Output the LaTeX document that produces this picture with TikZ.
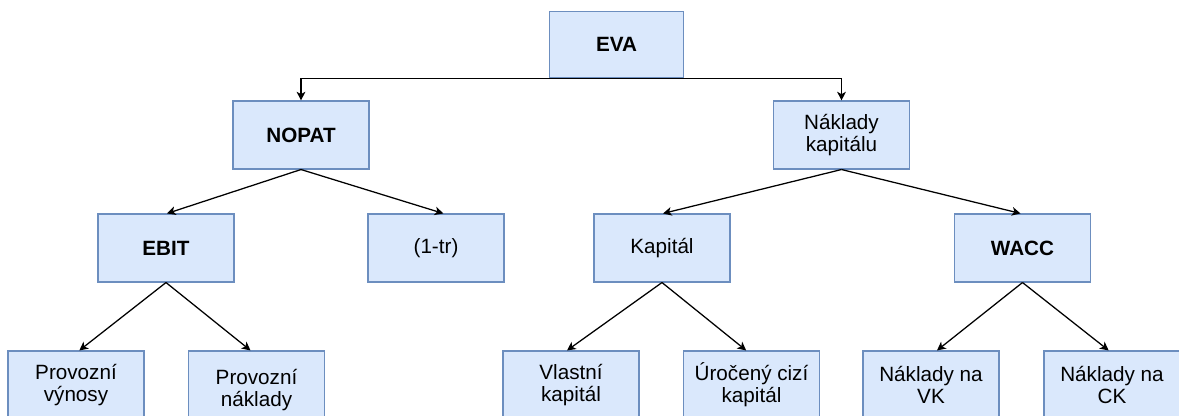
\documentclass[tikz,border=0pt]{standalone}
\usepackage{fontspec}
\setmainfont{Liberation Sans}
\usetikzlibrary{arrows.meta}
\definecolor{boxfill}{HTML}{DAE8FC}
\definecolor{boxline}{HTML}{6C8EBF}
\begin{document}
\begin{tikzpicture}[
  x=0.75pt, y=-0.75pt,
  box/.style={rectangle, draw=boxline, fill=boxfill, line width=0.8pt,
    minimum width=102pt, minimum height=51pt, inner sep=0pt, align=center,
    font=\fontsize{15.5}{16.5}\selectfont},
  bbox/.style={box, font=\fontsize{15.5}{16.5}\selectfont\bfseries},
  link/.style={draw=black, line width=0.95pt,
    -{Stealth[length=6.5pt, width=6.5pt, inset=1.8pt]}}
]
\useasboundingbox (0,0) rectangle (1179,416);

% top level
\node[bbox, minimum width=101pt, minimum height=50pt] (eva) at (616.5,44.5) {EVA};

% second level
\node[bbox] (nopat) at (301,135) {NOPAT};
\node[box]  (nk)    at (841.5,135) {Náklady\\kapitálu};

% third level
\node[bbox] (ebit)  at (166,248)   {EBIT};
\node[box]  (onetr) at (436,248)   {(1-tr)};
\node[box]  (kap)   at (662,248)   {Kapitál};
\node[bbox] (wacc)  at (1022.5,248) {WACC};

% fourth level
\node[box] (pv)  at (76,385)    {Provozní\\výnosy};
\node[box, minimum height=58.5pt] (pn) at (256.5,390) {Provozní\\náklady};
\node[box] (vk)  at (571,385)   {Vlastní\\kapitál};
\node[box] (uck) at (751.5,385) {Úročený cizí\\kapitál};
\node[box] (nvk) at (931,385)   {Náklady na\\VK};
\node[box] (nck) at (1112,385)  {Náklady na\\CK};

% connectors
\draw[link] (eva.south) -| (nopat.north);
\draw[link] (eva.south) -| (nk.north);

\draw[link] (nopat.south) -- ([xshift=0.75pt]ebit.north);
\draw[link] (nopat.south) -- ([xshift=5.5pt]onetr.north);
\draw[link] (nk.south) -- ([xshift=0.75pt]kap.north);
\draw[link] (nk.south) -- ([xshift=-1.5pt]wacc.north);

\draw[link] (ebit.south) -- ([xshift=2.5pt]pv.north);
\draw[link] (ebit.south) -- ([xshift=-4.5pt,yshift=-0.0pt]pn.north);
\draw[link] (kap.south) -- ([xshift=-3pt]vk.north);
\draw[link] (kap.south) -- ([xshift=-4pt]uck.north);
\draw[link] (wacc.south) -- ([xshift=4.5pt]nvk.north);
\draw[link] (wacc.south) -- ([xshift=-2.5pt]nck.north);
\end{tikzpicture}
\end{document}
